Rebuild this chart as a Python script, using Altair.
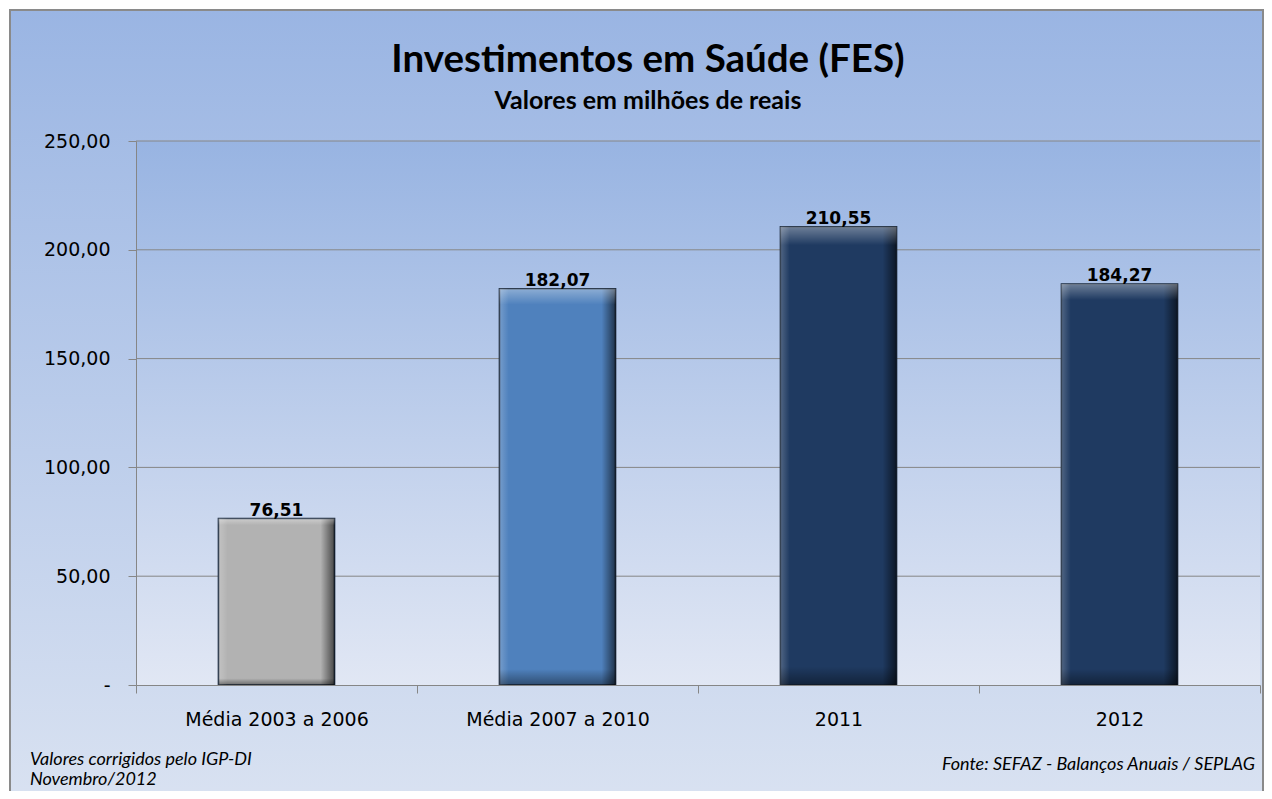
import altair as alt
import pandas as pd

# ---- data ----
CATEGORIES = ["Média 2003 a 2006", "Média 2007 a 2010", "2011", "2012"]
VALUES = [76.51, 182.07, 210.55, 184.27]
BAR_COLORS = ["#b2b2b2", "#4f81bd", "#1f3a61", "#1f3a61"]
Y_TICKS = [0, 50, 100, 150, 200, 250]
GRID = [50, 100, 150, 200, 250]
TITLE = "Investimentos em Saúde (FES)"
SUBTITLE = "Valores em milhões de reais"
NOTE_LEFT = ["Valores corrigidos pelo IGP-DI", "Novembro/2012"]
NOTE_RIGHT = "Fonte: SEFAZ - Balanços Anuais / SEPLAG"

W, H = 1124, 544
AXIS_GRAY = "#868686"

df = pd.DataFrame({"cat": CATEGORIES, "v": VALUES})
df["label"] = [f"{v:.2f}".replace(".", ",") for v in VALUES]
grid_df = pd.DataFrame({"v": GRID})
one = pd.DataFrame({"a": [0]})

x_axis = alt.Axis(
    title=None, labelAngle=0, tickBand="extent", tickSize=8, tickColor=AXIS_GRAY,
    domainColor=AXIS_GRAY, labelFont="DejaVu Sans", labelFontSize=19, labelLimit=400,
    labelColor="black", labelPadding=17, grid=False, zindex=1,
)
y_axis = alt.Axis(
    title=None, values=Y_TICKS, tickSize=8, tickColor=AXIS_GRAY, domainColor=AXIS_GRAY,
    labelFont="DejaVu Sans", labelFontSize=19, labelColor="black", labelPadding=18,
    grid=False, zindex=1,
    labelExpr="datum.value == 0 ? '-\u00a0\u00a0' : replace(format(datum.value, '.2f'), '.', ',')",
)
X = alt.X("cat:N", sort=CATEGORIES, scale=alt.Scale(paddingInner=0, paddingOuter=0), axis=x_axis)
Y = alt.Y("v:Q", scale=alt.Scale(domain=[0, 250], nice=False), axis=y_axis)

frame_grad = alt.LinearGradient(
    gradient="linear", x1=0, x2=0, y1=0, y2=1,
    stops=[alt.GradientStop(color="#9ab5e3", offset=0),
           alt.GradientStop(color="#dce4f2", offset=1)],
)
plot_grad = alt.LinearGradient(
    gradient="linear", x1=0, x2=0, y1=0, y2=1,
    stops=[alt.GradientStop(color="#98b4e2", offset=0),
           alt.GradientStop(color="#e1e7f4", offset=1)],
)

frame = alt.Chart(one).mark_rect(fill=frame_grad, stroke="#8a8a8a", strokeWidth=2).encode(
    x=alt.value(-126), x2=alt.value(1127), y=alt.value(-131), y2=alt.value(700)
)
plot_bg = alt.Chart(one).mark_rect(fill=plot_grad).encode(
    x=alt.value(0), x2=alt.value(W), y=alt.value(0), y2=alt.value(H)
)
grid = alt.Chart(grid_df).mark_rule(color=AXIS_GRAY, strokeWidth=1).encode(
    y=Y, x=alt.value(0), x2=alt.value(W)
)

BW = alt.RelativeBandSize(0.413)
bars = alt.Chart(df).mark_bar(width=BW, stroke="#1b2a3e", strokeWidth=1.6).encode(
    x=X, y=Y,
    color=alt.Color("cat:N", scale=alt.Scale(domain=CATEGORIES, range=BAR_COLORS), legend=None),
)
shade_h = alt.LinearGradient(
    gradient="linear", x1=0, x2=1, y1=0, y2=0,
    stops=[alt.GradientStop(color="rgba(255,255,255,0.22)", offset=0),
           alt.GradientStop(color="rgba(255,255,255,0)", offset=0.08),
           alt.GradientStop(color="rgba(0,0,0,0)", offset=0.88),
           alt.GradientStop(color="rgba(0,0,0,0.6)", offset=1)],
)
shade_v = alt.LinearGradient(
    gradient="linear", x1=0, x2=0, y1=0, y2=1,
    stops=[alt.GradientStop(color="rgba(255,255,255,0.35)", offset=0),
           alt.GradientStop(color="rgba(255,255,255,0)", offset=0.04),
           alt.GradientStop(color="rgba(0,0,0,0)", offset=0.96),
           alt.GradientStop(color="rgba(0,0,0,0.4)", offset=1)],
)
over_h = alt.Chart(df).mark_bar(width=BW, fill=shade_h).encode(x=X, y=Y)
over_v = alt.Chart(df).mark_bar(width=BW, fill=shade_v).encode(x=X, y=Y)

labels = alt.Chart(df).mark_text(
    dy=-3, baseline="alphabetic", font="DejaVu Sans", fontSize=17, fontWeight="bold", color="black"
).encode(x=X, y=Y, text="label:N")

title = alt.Chart(one).mark_text(
    text=TITLE, align="center", baseline="alphabetic", font="Lato", fontSize=38.5,
    fontWeight="bold", color="black",
).encode(x=alt.value(512), y=alt.value(-69))
subtitle = alt.Chart(one).mark_text(
    text=SUBTITLE, align="center", baseline="alphabetic", font="Lato", fontSize=25,
    fontWeight="bold", color="black",
).encode(x=alt.value(512), y=alt.value(-32))

note_left = alt.Chart(one).mark_text(
    text=NOTE_LEFT, align="left", baseline="alphabetic", font="Lato", fontStyle="italic",
    fontSize=18, lineHeight=20, color="black",
).encode(x=alt.value(-106), y=alt.value(624))
note_right = alt.Chart(one).mark_text(
    text=NOTE_RIGHT, align="right", baseline="alphabetic", font="Lato", fontStyle="italic",
    fontSize=18, color="black",
).encode(x=alt.value(W - 5), y=alt.value(629))

chart = alt.layer(
    frame, plot_bg, grid, bars, over_h, over_v, labels, title, subtitle, note_left, note_right
).properties(
    width=W, height=H,
    padding={"left": 128, "top": 133, "right": 4, "bottom": 106},
    autosize=alt.AutoSizeParams(type="none"),
).configure_view(stroke=None).configure(background="white")

chart.save("out.html", embed_options={"renderer": "svg", "actions": False})
